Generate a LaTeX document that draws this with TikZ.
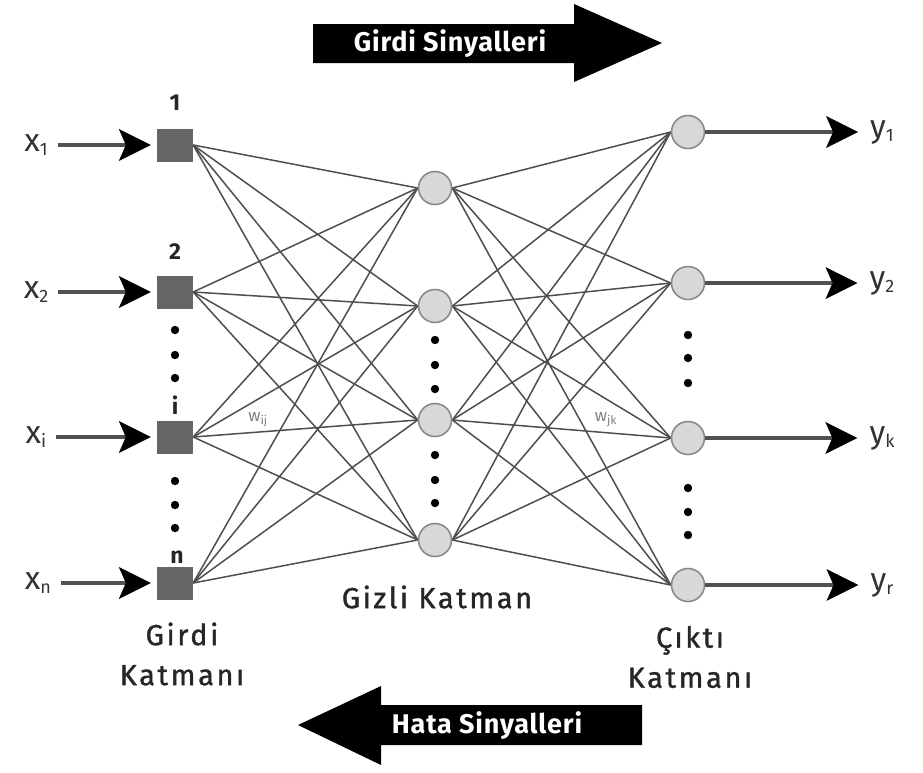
\documentclass[tikz,border=0pt]{standalone}
\usepackage{fontspec}
\setmainfont{Fira Sans}
\usetikzlibrary{arrows.meta,backgrounds}
\definecolor{sqfill}{HTML}{666666}
\definecolor{cfill}{HTML}{D8D8D8}
\definecolor{cdraw}{HTML}{8A8A8A}
\definecolor{wire}{HTML}{4E4E4E}
\definecolor{shaft}{HTML}{505050}
% small lowered index for the signal names
\newcommand{\sigidx}[1]{\raisebox{-0.25ex}{\fontsize{18}{18}\selectfont #1}}
\begin{document}
\begin{tikzpicture}[x=1pt,y=-1pt,
  inbox/.style={rectangle, fill=sqfill, minimum width=36pt, minimum height=33pt, inner sep=0pt},
  neuron/.style={circle, fill=cfill, draw=cdraw, line width=1.6pt, minimum size=33pt, inner sep=0pt},
  link/.style={draw=wire, line width=1.5pt},
  sigarrow/.style={draw=shaft, line width=4.5pt, -{Stealth[length=32pt,width=32pt,inset=7pt,color=black,fill=black,line width=0pt]}},
  dotmark/.style={fill=black},
  lbl/.style={font=\fontsize{29}{40}\selectfont\addfontfeature{LetterSpace=9,FakeBold=1.2}, inner sep=0pt, align=center, text=black!85},
  idx/.style={font=\fontsize{23}{24}\selectfont\bfseries, inner sep=0pt, text=black!85},
  var/.style={font=\fontsize{32}{34}\selectfont, inner sep=0pt, text=black!80},
  wlbl/.style={font=\fontsize{17}{18}\selectfont, text=gray, inner sep=0pt},
  bandtext/.style={font=\fontsize{27}{30}\selectfont\bfseries\addfontfeature{LetterSpace=3}, text=white, inner sep=0pt}
]
\useasboundingbox (0,0) rectangle (923,772);

% input layer
\foreach \n/\y in {1/145,2/292,3/437,4/583}
  \node[inbox] (I\n) at (175,\y) {};
% hidden layer
\foreach \n/\y in {1/188,2/306,3/420,4/540}
  \node[neuron] (H\n) at (435,\y) {};
% output layer
\foreach \n/\y in {1/132,2/283,3/438,4/585}
  \node[neuron] (O\n) at (688,\y) {};

% fully connected links
\begin{scope}[on background layer]
  \foreach \i in {1,...,4}
    \foreach \j in {1,...,4} {
      \draw[link] (I\i.east) -- (H\j.west);
      \draw[link] (H\i.east) -- (O\j.west);
    }
\end{scope}

% neuron indices
\node[idx] (n1) at (175,103) {1};
\node[idx] (n2) at (175,252) {2};
\node[idx] (n3) at (175,405) {i};
\node[idx] (n4) at (177,557) {n};

% ellipsis dots
\foreach \x/\y in {175/330,175/355,175/378,175/481,175/505,175/528,
                   435/340,435/365,435/389,435/455,435/480,435/503,
                   688/335,688/358,688/383,688/488,688/512,688/535}
  \fill[dotmark] (\x,\y) circle (4.2pt);

% input signals
\node[var] (x1) at (36,145) {x\sigidx{1}};
\node[var] (x2) at (36,292) {x\sigidx{2}};
\node[var] (x3) at (36,437) {x\sigidx{i}};
\node[var] (x4) at (38,583) {x\sigidx{n}};
\foreach \n in {1,...,4}
  \draw[sigarrow, shorten <=10pt, shorten >=6pt] (x\n.east) -- (I\n.west);

% output signals
\node[var] (y1) at (882,132) {y\sigidx{1}};
\node[var] (y2) at (882,283) {y\sigidx{2}};
\node[var] (y3) at (882,438) {y\sigidx{k}};
\node[var] (y4) at (882,585) {y\sigidx{r}};
\foreach \n in {1,...,4}
  \draw[sigarrow, shorten >=12pt] (O\n.east) -- (y\n.west);

% weight labels
\node[wlbl] (wij) at (258,420) {w\textsubscript{ij}};
\node[wlbl] (wjk) at (606,420) {w\textsubscript{jk}};

% layer names
\node[lbl] (inname) at (182,654) {Girdi\\Katmanı};
\node[lbl] (hidname) at (437,597) {Gizli Katman};
\node[lbl] (outname) at (690,657) {Çıktı\\Katmanı};

% forward / backward signal bands
\fill[black] (313,24) -- (574,24) -- (574,4) -- (662,43) -- (574,82) -- (574,63) -- (313,63) -- cycle;
\node[bandtext] (fwd) at (450,44) {Girdi Sinyalleri};
\fill[black] (642,705) -- (381,705) -- (381,686) -- (298,725) -- (381,765) -- (381,745) -- (642,745) -- cycle;
\node[bandtext] (bwd) at (487,726) {Hata Sinyalleri};
\end{tikzpicture}
\end{document}
